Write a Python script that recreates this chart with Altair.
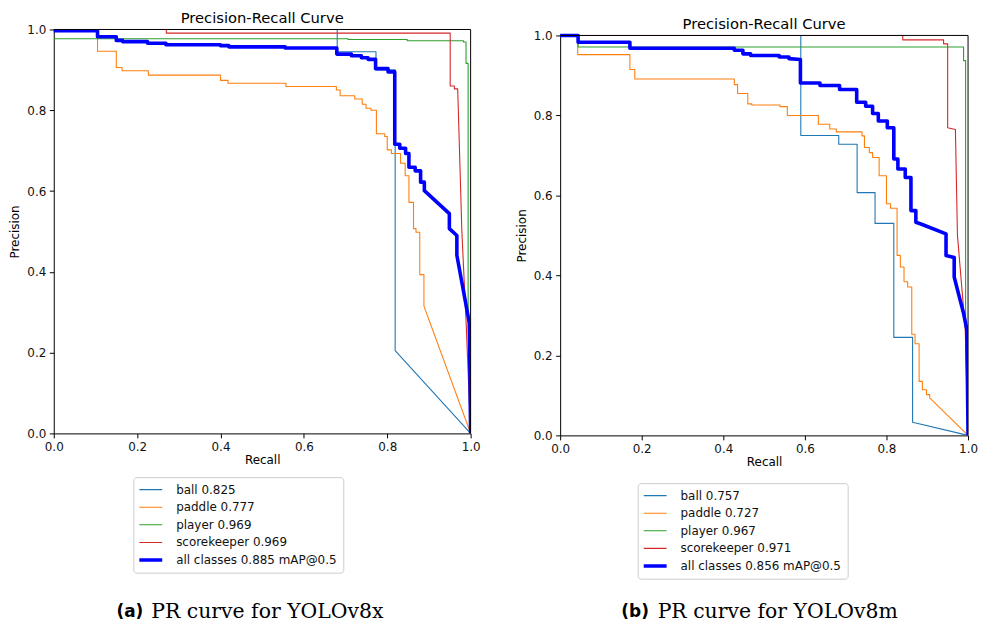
import altair as alt
import pandas as pd

CLASSES = ["ball", "paddle", "player", "scorekeeper", "all classes"]
A_SCORES = ["0.825", "0.777", "0.969", "0.969", "0.885"]
B_SCORES = ["0.757", "0.727", "0.967", "0.971", "0.856"]
COLORS = ["#1f77b4", "#ff7f0e", "#2ca02c", "#d62728", "#0000ff"]
WIDTHS = [1.1, 1.1, 1.1, 1.1, 3.6]
TICKS = [0.0, 0.2, 0.4, 0.6, 0.8, 1.0]

# ---- YOLOv8x: [recall, precision] points ----
A_BALL = [[0, 1.0], [0.680, 1.0], [0.680, 0.945], [0.773, 0.945], [0.773, 0.900],
          [0.819, 0.900], [0.819, 0.205], [1.0, 0.0]]
A_PADDLE = [[0, 1.0], [0.105, 1.0], [0.105, 0.946], [0.150, 0.946], [0.150, 0.906],
            [0.164, 0.906], [0.164, 0.898], [0.227, 0.898], [0.227, 0.887], [0.400, 0.887],
            [0.400, 0.874], [0.418, 0.874], [0.418, 0.867], [0.557, 0.867], [0.557, 0.859],
            [0.678, 0.859], [0.678, 0.850], [0.687, 0.850], [0.687, 0.836], [0.722, 0.836],
            [0.722, 0.828], [0.740, 0.828], [0.740, 0.815], [0.749, 0.815], [0.749, 0.805],
            [0.761, 0.805], [0.761, 0.800], [0.774, 0.800], [0.774, 0.742], [0.794, 0.742],
            [0.794, 0.735], [0.800, 0.735], [0.800, 0.702], [0.810, 0.702], [0.810, 0.693],
            [0.832, 0.693], [0.832, 0.669], [0.843, 0.669], [0.843, 0.638], [0.852, 0.638],
            [0.852, 0.572], [0.863, 0.572], [0.863, 0.507], [0.869, 0.507], [0.869, 0.498],
            [0.878, 0.498], [0.878, 0.393], [0.888, 0.393], [0.888, 0.315], [1.0, 0.0]]
A_PLAYER = [[0, 0.977], [0.706, 0.977], [0.706, 0.975], [0.848, 0.975], [0.848, 0.972],
            [0.983, 0.972], [0.983, 0.969], [0.989, 0.969], [0.989, 0.916], [0.994, 0.916],
            [0.994, 0.280], [1.0, 0.0]]
A_SCORE = [[0, 1.0], [0.270, 1.0], [0.270, 0.991], [0.951, 0.991], [0.951, 0.860],
           [0.961, 0.860], [0.961, 0.853], [0.969, 0.853], [0.979, 0.500], [0.989, 0.280],
           [1.0, 0.0]]
A_ALL = [[0, 0.997], [0.105, 0.997], [0.105, 0.982], [0.150, 0.982], [0.150, 0.973],
         [0.165, 0.973], [0.165, 0.970], [0.225, 0.970], [0.225, 0.966], [0.269, 0.966],
         [0.269, 0.962], [0.400, 0.962], [0.400, 0.960], [0.420, 0.960], [0.420, 0.957],
         [0.555, 0.957], [0.555, 0.954], [0.679, 0.954], [0.679, 0.939], [0.714, 0.939],
         [0.714, 0.935], [0.738, 0.935], [0.738, 0.930], [0.754, 0.930], [0.754, 0.926],
         [0.772, 0.926], [0.772, 0.903], [0.802, 0.903], [0.802, 0.895], [0.818, 0.895],
         [0.818, 0.716], [0.830, 0.716], [0.830, 0.706], [0.844, 0.706], [0.844, 0.693],
         [0.852, 0.693], [0.852, 0.659], [0.867, 0.659], [0.867, 0.650], [0.880, 0.650],
         [0.880, 0.622], [0.889, 0.622], [0.889, 0.601], [0.949, 0.544], [0.949, 0.507],
         [0.967, 0.490], [0.967, 0.441], [0.997, 0.273], [1.0, 0.0]]

# ---- YOLOv8m ----
B_BALL = [[0, 1.0], [0.590, 1.0], [0.590, 0.750], [0.683, 0.750], [0.683, 0.728],
          [0.728, 0.728], [0.728, 0.607], [0.772, 0.607], [0.772, 0.530], [0.818, 0.530],
          [0.818, 0.245], [0.864, 0.245], [0.864, 0.033], [1.0, 0.0]]
B_PADDLE = [[0, 1.0], [0.043, 1.0], [0.043, 0.952], [0.171, 0.952], [0.171, 0.915],
            [0.183, 0.915], [0.183, 0.891], [0.427, 0.891], [0.427, 0.877], [0.435, 0.877],
            [0.435, 0.855], [0.460, 0.855], [0.460, 0.829], [0.470, 0.829], [0.470, 0.826],
            [0.539, 0.826], [0.539, 0.822], [0.557, 0.822], [0.557, 0.800], [0.633, 0.800],
            [0.633, 0.778], [0.661, 0.778], [0.661, 0.766], [0.677, 0.766], [0.677, 0.759],
            [0.740, 0.759], [0.740, 0.749], [0.746, 0.749], [0.746, 0.720], [0.758, 0.720],
            [0.758, 0.707], [0.766, 0.707], [0.766, 0.695], [0.782, 0.695], [0.782, 0.649],
            [0.800, 0.649], [0.800, 0.579], [0.810, 0.579], [0.810, 0.568], [0.826, 0.568],
            [0.826, 0.450], [0.834, 0.450], [0.834, 0.421], [0.843, 0.421], [0.843, 0.384],
            [0.852, 0.384], [0.852, 0.371], [0.862, 0.371], [0.862, 0.253], [0.870, 0.253],
            [0.870, 0.229], [0.880, 0.229], [0.880, 0.135], [0.888, 0.135], [0.888, 0.114],
            [0.898, 0.114], [0.898, 0.102], [0.906, 0.102], [0.906, 0.094], [1.0, 0.0]]
B_PLAYER = [[0, 1.0], [0.044, 1.0], [0.044, 0.971], [0.989, 0.971], [0.989, 0.937],
            [0.994, 0.937], [0.994, 0.276], [1.0, 0.0]]
B_SCORE = [[0, 1.0], [0.840, 1.0], [0.840, 0.989], [0.940, 0.989], [0.940, 0.979],
           [0.950, 0.979], [0.950, 0.769], [0.969, 0.765], [0.974, 0.500], [0.993, 0.268],
           [1.0, 0.0]]
B_ALL = [[0, 1.0], [0.044, 1.0], [0.044, 0.983], [0.171, 0.983], [0.171, 0.968],
         [0.427, 0.968], [0.427, 0.963], [0.448, 0.963], [0.448, 0.954], [0.467, 0.954],
         [0.467, 0.950], [0.537, 0.950], [0.537, 0.946], [0.561, 0.946], [0.561, 0.942],
         [0.589, 0.940], [0.589, 0.881], [0.637, 0.881], [0.637, 0.875], [0.685, 0.875],
         [0.685, 0.865], [0.727, 0.865], [0.727, 0.833], [0.749, 0.833], [0.749, 0.823],
         [0.766, 0.823], [0.766, 0.805], [0.780, 0.805], [0.780, 0.786], [0.802, 0.786],
         [0.802, 0.769], [0.818, 0.769], [0.818, 0.691], [0.828, 0.691], [0.828, 0.666],
         [0.846, 0.666], [0.846, 0.645], [0.860, 0.645], [0.860, 0.562], [0.872, 0.562],
         [0.872, 0.533], [0.886, 0.528], [0.946, 0.504], [0.946, 0.450], [0.966, 0.445],
         [0.966, 0.396], [0.989, 0.305], [0.997, 0.264], [1.0, 0.0]]

FONT = "DejaVu Sans"


def make_label(cls, score):
    return f"{cls} {score} mAP@0.5" if cls == "all classes" else f"{cls} {score}"


def panel(series, scores, tag, caption, w, h, lx, ly, cap, top_gap):
    """One PR panel. top_gap lowers the plotting frame inside the view (pixels)."""
    labels = [make_label(c, s) for c, s in zip(CLASSES, scores)]
    rows = []
    for lab, pts in zip(labels, series):
        for i, (r, p) in enumerate(pts):
            rows.append({"series": lab, "idx": i, "recall": r, "precision": p})
    df = pd.DataFrame(rows)
    view_h = h + top_gap

    leg = alt.Legend(title=None, orient="none", legendX=lx, legendY=ly,
                     symbolType="M-2,0H2", symbolSize=144, symbolOffset=3,
                     labelOffset=18, clipHeight=13, rowPadding=4.7, padding=6,
                     labelFont=FONT, labelFontSize=12, labelColor="#111", labelLimit=400,
                     strokeColor="#cccccc", cornerRadius=3, fillColor="white")

    xs = alt.Scale(domain=[0, 1], nice=False, zero=False)
    ys = alt.Scale(domain=[0, 1], nice=False, zero=False, range=[view_h, top_gap])
    x = alt.X("recall:Q", scale=xs,
              axis=alt.Axis(title="Recall", values=TICKS, format=".1f", labelFlush=False))
    y = alt.Y("precision:Q", scale=ys,
              axis=alt.Axis(title="Precision", values=TICKS, format=".1f", labelFlush=False))

    lines = alt.Chart(df).mark_line(clip=True, strokeJoin="round", strokeCap="round").encode(
        x=x, y=y,
        color=alt.Color("series:N", scale=alt.Scale(domain=labels, range=COLORS),
                        sort=labels, legend=leg),
        strokeWidth=alt.StrokeWidth("series:N",
                                    scale=alt.Scale(type="ordinal", domain=labels, range=WIDTHS),
                                    sort=labels, legend=leg),
        order="idx:Q",
    )

    frame_df = pd.DataFrame({"v": [0]})
    top_rule = alt.Chart(frame_df).mark_rule(color="black", strokeWidth=1).encode(
        x=alt.datum(0, scale=xs), x2=alt.datum(1), y=alt.datum(1, scale=ys))
    right_rule = alt.Chart(frame_df).mark_rule(color="black", strokeWidth=1).encode(
        x=alt.datum(1, scale=xs), y=alt.datum(0, scale=ys), y2=alt.datum(1))

    cap_df = pd.DataFrame({"tag": [tag], "caption": [caption]})
    tag_mark = alt.Chart(cap_df).mark_text(
        font=FONT, fontWeight="bold", fontSize=17, align="left", baseline="middle", color="black"
    ).encode(x=alt.value(cap[0]), y=alt.value(cap[2]), text="tag:N")
    cap_mark = alt.Chart(cap_df).mark_text(
        font="DejaVu Serif", fontSize=20.5, align="left", baseline="middle", color="black"
    ).encode(x=alt.value(cap[1]), y=alt.value(cap[2]), text="caption:N")

    return alt.layer(lines, top_rule, right_rule, tag_mark, cap_mark).properties(
        width=w, height=view_h,
        view=alt.ViewBackground(stroke="transparent"),
        title=alt.TitleParams("Precision-Recall Curve", font=FONT, fontSize=14.8,
                              fontWeight="normal", color="black", offset=-2),
    ).resolve_scale(color="independent", strokeWidth="independent")


left = panel([A_BALL, A_PADDLE, A_PLAYER, A_SCORE, A_ALL], A_SCORES,
             "(a)", "PR curve for YOLOv8x", 419, 406, 80, 450, (63, 98, 585.5), 0)
right = panel([B_BALL, B_PADDLE, B_PLAYER, B_SCORE, B_ALL], B_SCORES,
              "(b)", "PR curve for YOLOv8m", 410, 402, 78, 456, (61.5, 98, 585.5), 6)

chart = alt.hconcat(left, right, spacing=33).resolve_scale(
    color="independent", strokeWidth="independent"
).resolve_legend(color="independent", strokeWidth="independent").configure_view(
    stroke="transparent"
).configure_axis(
    grid=False, domainColor="black", domainWidth=1, tickColor="black", tickWidth=1,
    tickSize=4.5, labelFont=FONT, labelFontSize=12, labelColor="#111", labelPadding=3.5,
    titleFont=FONT, titleFontSize=12, titleFontWeight="normal", titleColor="black",
).configure_axisX(titlePadding=2).configure_axisY(titlePadding=5).properties(
    padding={"left": 0, "top": 0, "right": 0, "bottom": 0}
)

chart.save("out.html", embed_options={"renderer": "svg", "actions": False})
